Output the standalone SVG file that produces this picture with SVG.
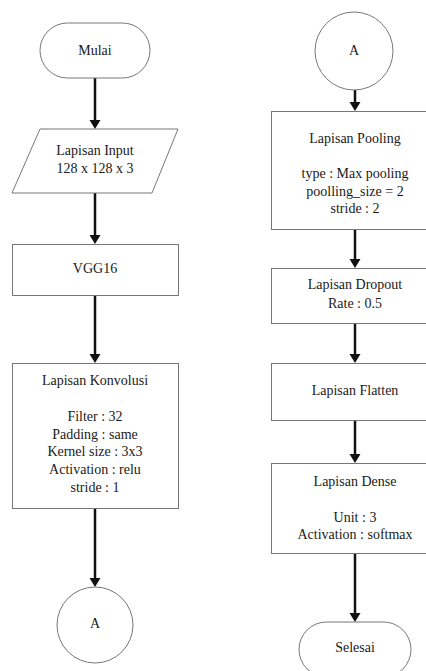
<svg xmlns="http://www.w3.org/2000/svg" width="426" height="671" viewBox="0 0 426 671">
  <style>
    .shape { fill: #ffffff; stroke: #777777; stroke-width: 1; }
    .label { font-family: 'Liberation Serif', 'DejaVu Serif', 'Times New Roman', serif; font-size: 14px; fill: #1a1a1a; text-anchor: middle; }
    .flow { stroke: #111111; stroke-width: 2.5; fill: none; }
    .tip { fill: #111111; }
  </style>
  <rect width="426" height="671" fill="#ffffff"/>

  <!-- connectors: shaft plus filled triangular head -->
  <g id="connectors">
    <line class="flow" x1="95" y1="78" x2="95" y2="121"/>
    <path class="tip" d="M89.5,120 L100.5,120 L95,129 Z"/>
    <line class="flow" x1="95" y1="193" x2="95" y2="236"/>
    <path class="tip" d="M89.5,235 L100.5,235 L95,244 Z"/>
    <line class="flow" x1="95" y1="295" x2="95" y2="355"/>
    <path class="tip" d="M89.5,354 L100.5,354 L95,363 Z"/>
    <line class="flow" x1="95" y1="508" x2="95" y2="579"/>
    <path class="tip" d="M89.5,578 L100.5,578 L95,587 Z"/>

    <line class="flow" x1="355" y1="90" x2="355" y2="103"/>
    <path class="tip" d="M349.5,102 L360.5,102 L355,111 Z"/>
    <line class="flow" x1="355" y1="229" x2="355" y2="260"/>
    <path class="tip" d="M349.5,259 L360.5,259 L355,268 Z"/>
    <line class="flow" x1="355" y1="323" x2="355" y2="355"/>
    <path class="tip" d="M349.5,354 L360.5,354 L355,363 Z"/>
    <line class="flow" x1="355" y1="420" x2="355" y2="455"/>
    <path class="tip" d="M349.5,454 L360.5,454 L355,463 Z"/>
    <line class="flow" x1="355" y1="553" x2="355" y2="614"/>
    <path class="tip" d="M349.5,613 L360.5,613 L355,622 Z"/>
  </g>

  <!-- left column -->
  <g id="mulai">
    <rect class="shape" x="40" y="23" width="110" height="55" rx="27.5" ry="27.5"/>
    <text class="label" font-family="Liberation Serif, serif" x="95" y="55">Mulai</text>
  </g>
  <g id="input">
    <polygon class="shape" points="40,129 178,129 152,193 12,193"/>
    <text class="label" x="95" y="155">Lapisan Input</text>
    <text class="label" x="95" y="173">128 x 128 x 3</text>
  </g>
  <g id="vgg16">
    <rect class="shape" x="12.5" y="244.5" width="166" height="51"/>
    <text class="label" x="95" y="273">VGG16</text>
  </g>
  <g id="konvolusi">
    <rect class="shape" x="12.5" y="363.5" width="166" height="145"/>
    <text class="label" x="95" y="385">Lapisan Konvolusi</text>
    <text class="label" x="95" y="421">Filter : 32</text>
    <text class="label" x="95" y="438.5">Padding : same</text>
    <text class="label" x="95" y="456">Kernel size : 3x3</text>
    <text class="label" x="95" y="474">Activation : relu</text>
    <text class="label" x="95" y="492">stride : 1</text>
  </g>
  <g id="konektor-a-out">
    <circle class="shape" cx="95" cy="625" r="38"/>
    <text class="label" x="95" y="628">A</text>
  </g>

  <!-- right column -->
  <g id="konektor-a-in">
    <circle class="shape" cx="354" cy="51" r="39"/>
    <text class="label" x="354" y="55">A</text>
  </g>
  <g id="pooling">
    <rect class="shape" x="271.5" y="111.5" width="166" height="118"/>
    <text class="label" x="355" y="143">Lapisan Pooling</text>
    <text class="label" x="355" y="178">type : Max pooling</text>
    <text class="label" x="355" y="196">poolling_size = 2</text>
    <text class="label" x="355" y="213">stride : 2</text>
  </g>
  <g id="dropout">
    <rect class="shape" x="271.5" y="268.5" width="166" height="55"/>
    <text class="label" x="355" y="289">Lapisan Dropout</text>
    <text class="label" x="355" y="308">Rate : 0.5</text>
  </g>
  <g id="flatten">
    <rect class="shape" x="271.5" y="363.5" width="166" height="57"/>
    <text class="label" x="355" y="395">Lapisan Flatten</text>
  </g>
  <g id="dense">
    <rect class="shape" x="271.5" y="463.5" width="166" height="90"/>
    <text class="label" x="355" y="486">Lapisan Dense</text>
    <text class="label" x="355" y="522">Unit : 3</text>
    <text class="label" x="355" y="539">Activation : softmax</text>
  </g>
  <g id="selesai">
    <rect class="shape" x="299" y="622" width="112" height="55" rx="27.5" ry="27.5"/>
    <text class="label" x="355" y="652">Selesai</text>
  </g>
</svg>
